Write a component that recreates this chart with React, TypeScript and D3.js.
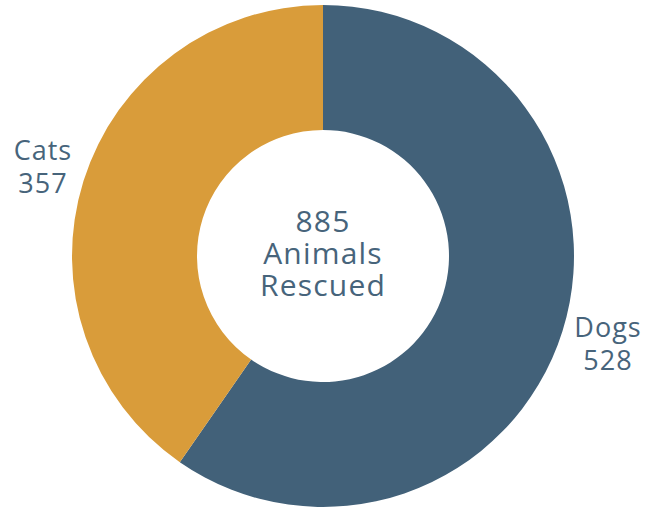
import React from "react";
import * as d3 from "d3";

const categories = ["Dogs", "Cats"];
const values = [528, 357];
const colors = ["#426179", "#d99c3a"];
const totalLabel = ["885", "Animals", "Rescued"];

const W = 656, H = 508;
const cx = 323, cy = 256, outerR = 251, innerR = 126;
const textColor = "#47647b";
const font = "'Open Sans', sans-serif";

export default function App() {
  const pie = d3.pie<number>().sort(null).value((d) => d)(values);
  const arc = d3.arc<d3.PieArcDatum<number>>().innerRadius(innerR).outerRadius(outerR);
  const labelPos: Record<string, { x: number; y: number }> = {
    Dogs: { x: 608, y: 337 },
    Cats: { x: 43, y: 160 },
  };
  return (
    <svg width={W} height={H} style={{ position: "absolute", left: 0, top: 0, background: "#fff" }}>
      <g transform={`translate(${cx},${cy})`}>
        {pie.map((p, i) => (
          <path key={i} d={arc(p) || ""} fill={colors[i]} />
        ))}
        <text textAnchor="middle" fill={textColor} fontFamily={font} fontSize={30} letterSpacing={1.2}>
          {totalLabel.map((t, i) => (
            <tspan key={i} x={0} y={232 - cy + i * 32}>{t}</tspan>
          ))}
        </text>
      </g>
      {categories.map((c, i) => (
        <text key={c} textAnchor="middle" fill={textColor} fontFamily={font} fontSize={27} letterSpacing={1}>
          <tspan x={labelPos[c].x} y={labelPos[c].y}>{c}</tspan>
          <tspan x={labelPos[c].x} y={labelPos[c].y + 33}>{values[i]}</tspan>
        </text>
      ))}
    </svg>
  );
}
